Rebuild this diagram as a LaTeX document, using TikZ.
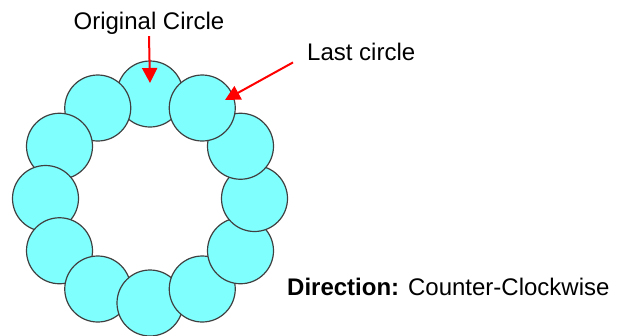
\documentclass[tikz,border=0pt]{standalone}
\usepackage{fontspec}
\setmainfont{Liberation Sans}
\usepackage{xcolor}
\usepackage{tikz}
\usetikzlibrary{positioning,arrows.meta}
\definecolor{RingCyan}{HTML}{80FFFF}
\definecolor{RingEdge}{HTML}{404040}
\definecolor{PointerRed}{HTML}{FF0000}

\begin{document}
\begin{tikzpicture}[
  x=1pt, y=-1pt,
  font=\fontsize{24}{28}\selectfont,
  ring/.style={circle, draw=RingEdge, line width=1.2pt, fill=RingCyan, minimum size=66pt, inner sep=0pt},
  label/.style={inner sep=2pt},
  arrow/.style={-{Triangle[length=15pt,width=15pt]}, line width=2pt, draw=PointerRed}
]
\useasboundingbox (0,0) rectangle (624,335);
% ring of circles, drawn counter-clockwise from the top one
\foreach \i in {0,...,11}
  \node[ring] (c\i) at ({150+104.5*cos(90+30*\i)}, {198.5-104.5*sin(90+30*\i)}) {};
\node[label, anchor=base] (orig) at (149,29) {Original Circle};
\node[label, anchor=base west] (last) at (305,60) {Last circle};
\node[label, anchor=base west] (dir) at (285,295) {\textbf{Direction:} Counter-Clockwise};
\coordinate (origtip) at (150,83);
\coordinate (lasttip) at (225,100);
\draw[arrow] (orig.south) -- (origtip);
\draw[arrow] ([xshift=-12pt]last.south west) -- (lasttip);
\end{tikzpicture}
\end{document}
